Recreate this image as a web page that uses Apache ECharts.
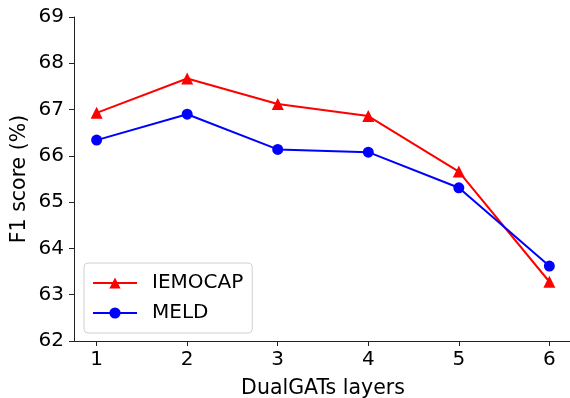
<!DOCTYPE html>
<html>
<head>
<meta charset="utf-8">
<script src="https://cdn.jsdelivr.net/npm/echarts@6/dist/echarts.min.js"></script>
<style>
  html, body { margin: 0; padding: 0; background: #fff; }
  #chart { width: 570px; height: 398px; }
</style>
</head>
<body>
<div id="chart"></div>
<script>
const layers = [1, 2, 3, 4, 5, 6];
const iemocap = [66.93, 67.67, 67.12, 66.86, 65.66, 63.28];
const meld = [66.34, 66.90, 66.14, 66.08, 65.31, 63.62];

const chart = echarts.init(document.getElementById("chart"));
const font = "DejaVu Sans";

chart.setOption({
  animation: false,
  textStyle: { fontFamily: font },
  grid: { left: 74, right: -2, top: 17, bottom: 57, outerBoundsMode: "none", containLabel: false },
  legend: {
    left: 84,
    top: 263,
    orient: "vertical",
    itemWidth: 44,
    itemHeight: 14,
    itemGap: 10,
    padding: [10, 9, 10, 8],
    borderColor: "#d0d0d0",
    borderWidth: 1,
    borderRadius: 4,
    backgroundColor: "rgba(255,255,255,0.8)",
    textStyle: { fontFamily: font, fontSize: 20, color: "#000", padding: [0, 0, 0, 10] },
    data: ["IEMOCAP", "MELD"],
  },
  xAxis: {
    type: "value",
    min: 0.75,
    max: 6.25,
    name: "DualGATs layers",
    nameLocation: "middle",
    nameGap: 37,
    nameMoveOverlap: false,
    nameTextStyle: { fontFamily: font, fontSize: 20.5, color: "#000" },
    axisLine: { lineStyle: { color: "#222", width: 1 } },
    axisTick: { show: true, length: 5, customValues: layers, lineStyle: { color: "#222" } },
    axisLabel: { customValues: layers, fontSize: 20, color: "#000", margin: 9 },
    splitLine: { show: false },
  },
  yAxis: {
    type: "value",
    min: 62,
    max: 69,
    interval: 1,
    name: "F1 score (%)",
    nameLocation: "middle",
    nameGap: 44,
    nameMoveOverlap: false,
    nameTextStyle: { fontFamily: font, fontSize: 20.5, color: "#000" },
    axisLine: { show: true, lineStyle: { color: "#222", width: 1 } },
    axisTick: { show: true, length: 5, lineStyle: { color: "#222" } },
    axisLabel: { fontSize: 20, color: "#000", margin: 10 },
    splitLine: { show: false },
  },
  series: [
    {
      name: "IEMOCAP",
      type: "line",
      data: layers.map((x, i) => [x, iemocap[i]]),
      symbol: "triangle",
      symbolSize: 12,
      lineStyle: { color: "#ff0000", width: 2 },
      itemStyle: { color: "#ff0000" },
    },
    {
      name: "MELD",
      type: "line",
      data: layers.map((x, i) => [x, meld[i]]),
      symbol: "circle",
      symbolSize: 11,
      lineStyle: { color: "#0000ff", width: 2 },
      itemStyle: { color: "#0000ff" },
    },
  ],
});
</script>
</body>
</html>
